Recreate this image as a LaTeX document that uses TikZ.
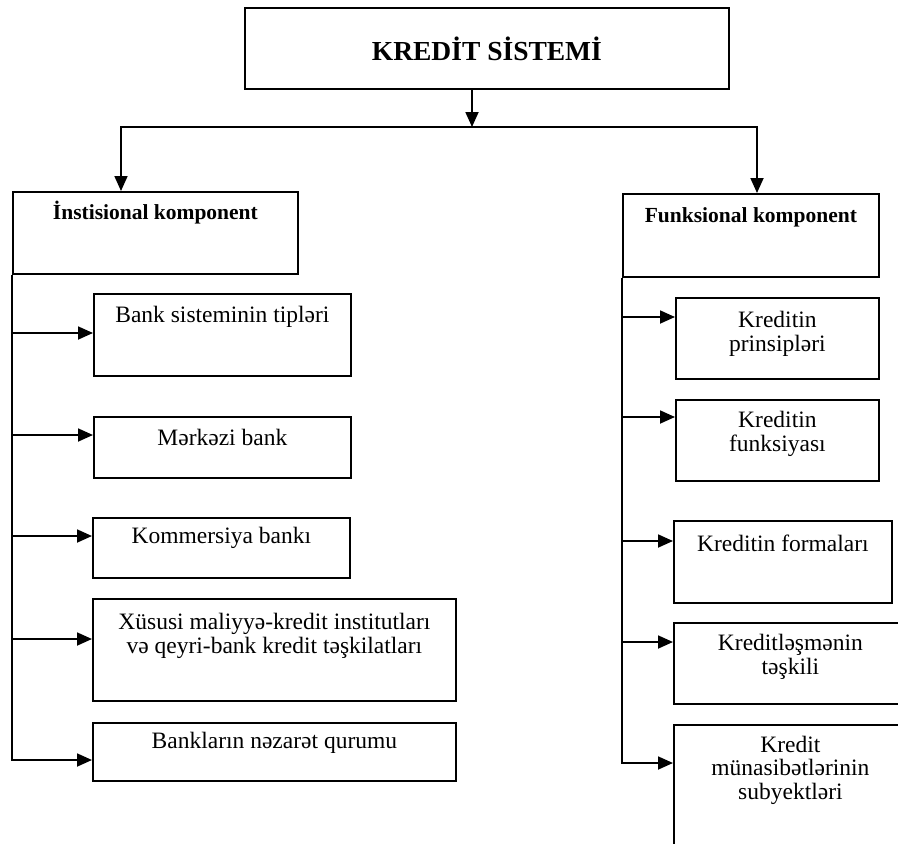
\documentclass[tikz,border=0pt]{standalone}
\usepackage{fontspec}
\setmainfont{Liberation Serif}
\usetikzlibrary{arrows.meta}
\begin{document}
\begin{tikzpicture}[x=1pt,y=-1pt,
  frame/.style={draw, line width=1.8pt, inner sep=0pt, anchor=north west},
  conn/.style={line width=1.8pt},
  arr/.style={conn, -{Triangle[length=15pt,width=13pt]}},
  txt/.style={font=\fontsize{23.5}{23.5}\selectfont, align=center, inner sep=0pt},
  head/.style={font=\bfseries\fontsize{21.5}{26}\selectfont, inner sep=0pt},
  title/.style={font=\bfseries\fontsize{27.5}{30}\selectfont},
]
\useasboundingbox (0,0) rectangle (898,844);
\clip (0,0) rectangle (898,844);

% top level
\node[frame, title, minimum width=484pt, minimum height=81pt] (K) at (244,7) {KREDİT SİSTEMİ};

% the two components
\node[frame, minimum width=285pt, minimum height=82pt] (I) at (12,191) {};
\node[head] (It) at (I.north |- 0,213) {İnstisional komponent};
\node[frame, minimum width=256pt, minimum height=83pt] (F) at (622,193) {};
\node[head] (Ft) at (F.north |- 0,217) {Funksional komponent};

% institutional branch
\node[frame, minimum width=257pt, minimum height=82pt] (L1) at (93,293) {};
\node[txt] (L1t) at (L1.north |- 0,317) {Bank sisteminin tipləri};
\node[frame, minimum width=257pt, minimum height=61pt] (L2) at (93,416) {};
\node[txt] (L2t) at (L2.north |- 0,437) {Mərkəzi bank};
\node[frame, minimum width=257pt, minimum height=60pt] (L3) at (92,517) {};
\node[txt] (L3t) at (L3.north |- 0,538) {Kommersiya bankı};
\node[frame, minimum width=363pt, minimum height=102pt] (L4) at (92,598) {};
\node[txt] (L4t) at (L4.north |- 0,636) {Xüsusi maliyyə-kredit institutları\\və qeyri-bank kredit təşkilatları};
\node[frame, minimum width=363pt, minimum height=58pt] (L5) at (92,722) {};
\node[txt] (L5t) at (L5.north |- 0,743) {Bankların nəzarət qurumu};

% functional branch
\node[frame, minimum width=203pt, minimum height=81pt] (R1) at (675,297) {};
\node[txt] (R1t) at (R1.north |- 0,334) {Kreditin\\prinsipləri};
\node[frame, minimum width=203pt, minimum height=81pt] (R2) at (675,399) {};
\node[txt] (R2t) at (R2.north |- 0,434) {Kreditin\\funksiyası};
\node[frame, minimum width=218pt, minimum height=82pt] (R3) at (673,520) {};
\node[txt] (R3t) at (R3.north |- 0,543) {Kreditin formaları};
\node[frame, minimum width=233pt, minimum height=81pt] (R4) at (673,622) {};
\node[txt] (R4t) at (R4.north |- 0,657) {Kreditləşmənin\\təşkili};
\node[frame, minimum width=233pt, minimum height=200pt] (R5) at (673,724) {};
\node[txt] (R5t) at (R5.north |- 0,770) {Kredit\\münasibətlərinin\\subyektləri};

% connectors
\coordinate (bus) at (472,127);
\draw[arr] (K.south -| bus) -- (bus);
\draw[arr] (bus) -| (I.north -| 121,0);
\draw[arr] (bus) -| (F.north -| 757,0);

\draw[arr] (I.south west) |- (L5.west |- 0,760);
\draw[arr] (I.south west |- 0,333) -- (L1.west |- 0,333);
\draw[arr] (I.south west |- 0,435) -- (L2.west |- 0,435);
\draw[arr] (I.south west |- 0,536) -- (L3.west |- 0,536);
\draw[arr] (I.south west |- 0,639) -- (L4.west |- 0,639);

\draw[arr] (F.south west) |- (R5.west |- 0,763);
\draw[arr] (F.south west |- 0,317) -- (R1.west |- 0,317);
\draw[arr] (F.south west |- 0,417) -- (R2.west |- 0,417);
\draw[arr] (F.south west |- 0,541) -- (R3.west |- 0,541);
\draw[arr] (F.south west |- 0,642) -- (R4.west |- 0,642);
\end{tikzpicture}
\end{document}
